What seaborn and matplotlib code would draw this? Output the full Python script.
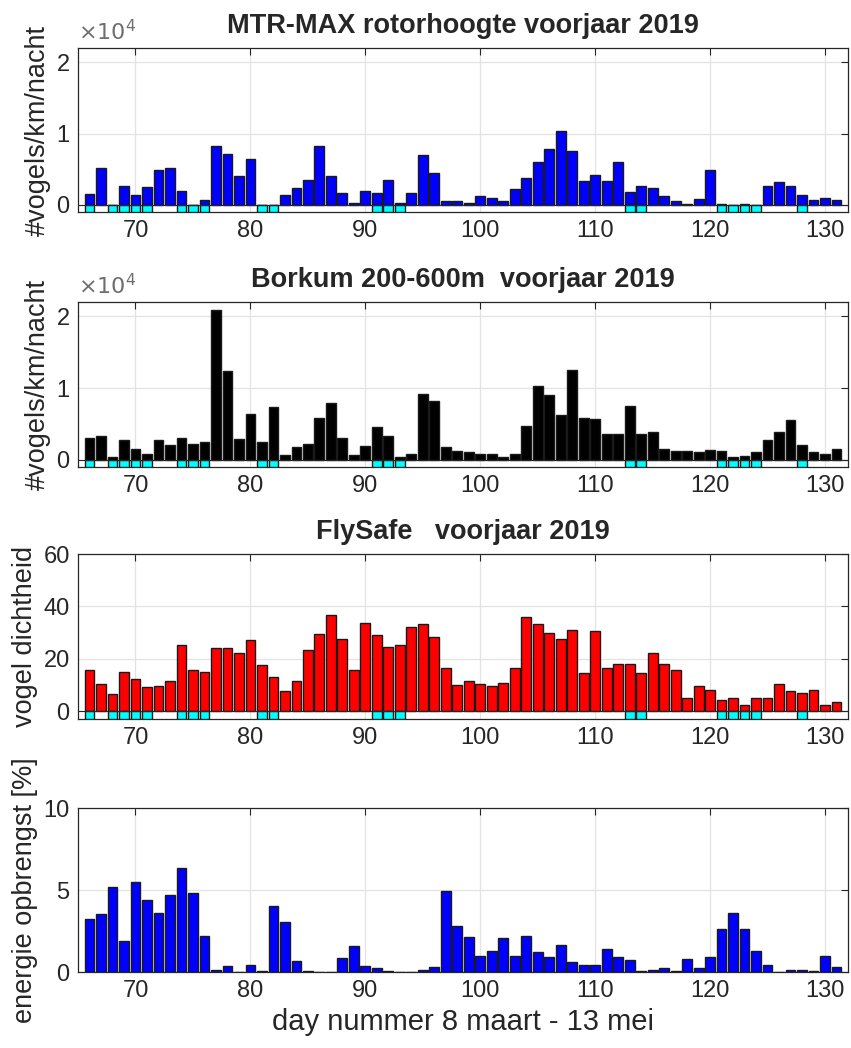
import numpy as np
import pandas as pd
import matplotlib
matplotlib.use("Agg")
import matplotlib.pyplot as plt
import seaborn as sns

# Day numbers (8 March - 13 May 2019)
days = list(range(66, 132))

# MTR-MAX rotor height, birds/km/night
mtr_max = [1480, 5200, 0, 2700, 1400, 2550, 4860, 5200, 2000, 0,
           650, 8200, 7200, 4000, 6500, 0, 0, 1340, 2360, 3470,
           8200, 4000, 1670, 320, 2000, 1670, 3470, 320, 1670, 7000,
           4500, 500, 500, 320, 1200, 1000, 500, 2180, 3700, 5970,
           7870, 10370, 7500, 3330, 4170, 3330, 5970, 1850, 2690, 2360,
           1200, 500, 190, 830, 4860, 190, 0, 190, 0, 2690,
           3190, 2690, 1340, 690, 1000, 690]

# Borkum radar 200-600 m, birds/km/night
borkum = [3100, 3380, 420, 2730, 1530, 880, 2730, 2080, 3100, 2220,
          2550, 20880, 12400, 2900, 6400, 2550, 7400, 740, 1760, 2270,
          5880, 7900, 3100, 740, 1940, 4580, 3380, 420, 880, 9200,
          8240, 1760, 1250, 1060, 880, 880, 420, 880, 4720, 10230,
          9070, 6200, 12550, 5880, 5740, 3560, 3560, 7550, 3560, 3940,
          1570, 1250, 1250, 1060, 1390, 1250, 420, 600, 1060, 2730,
          3940, 5600, 2080, 1060, 880, 1570]

# FlySafe bird density
flysafe = [15.9, 10.4, 6.7, 14.9, 12.3, 9.1, 9.6, 11.4, 25.1, 15.9,
           14.9, 24.2, 24.2, 22.3, 27.3, 17.7, 13.2, 7.6, 11.4, 23.3,
           29.6, 36.8, 27.7, 15.9, 33.7, 29.1, 24.6, 25.4, 32.3, 33.2,
           28.2, 16.5, 10.0, 11.4, 10.5, 9.6, 10.9, 16.5, 35.9, 33.2,
           30.0, 27.7, 30.9, 14.6, 30.5, 16.3, 18.2, 18.2, 14.4, 22.3,
           18.2, 15.9, 4.9, 9.6, 8.1, 4.4, 4.9, 2.3, 4.9, 4.9,
           10.4, 7.7, 6.8, 8.1, 2.3, 3.5]

# Energy yield [%]
energie = [3.23, 3.52, 5.2, 1.89, 5.51, 4.41, 3.58, 4.70, 6.36, 4.82,
           2.2, 0.14, 0.39, 0.0, 0.45, 0.08, 4.02, 3.07, 0.65, 0.08,
           0.02, 0.02, 0.87, 1.6, 0.39, 0.22, 0.08, 0.0, 0.0, 0.14,
           0.3, 4.92, 2.8, 2.15, 0.98, 1.26, 2.07, 0.98, 2.22, 1.2,
           0.89, 1.63, 0.61, 0.45, 0.45, 1.4, 0.89, 0.73, 0.08, 0.14,
           0.22, 0.08, 0.81, 0.22, 0.89, 2.64, 3.58, 2.64, 1.26, 0.45,
           0.0, 0.14, 0.14, 0.08, 0.98, 0.3]

# Days flagged (drawn as cyan markers below the baseline)
flag_days = [66, 68, 69, 70, 71, 74, 75, 76, 81, 82, 91, 92, 93,
             113, 114, 121, 122, 123, 124, 128]

xticks = [70, 80, 90, 100, 110, 120, 130]

sns.set_theme(style="white")
plt.rcParams["font.family"] = ["Liberation Sans", "DejaVu Sans"]
TXT = "#262626"
plt.rcParams.update({
    "text.color": TXT, "axes.labelcolor": TXT,
    "xtick.color": TXT, "ytick.color": TXT,
    "axes.edgecolor": TXT,
})

fig = plt.figure(figsize=(8.51, 10.48), dpi=100)
L, W = 0.0917, 0.9048
boxes = [(L, 0.7977, W, 0.1565),
         (L, 0.5544, W, 0.1574),
         (L, 0.3139, W, 0.1574),
         (L, 0.0725, W, 0.1565)]
axes = [fig.add_axes(b) for b in boxes]

panels = [
    dict(vals=mtr_max, color="#0000ff", ylim=(-1000, 22000),
         yticks=[0, 10000, 20000], yticklabels=["0", "1", "2"],
         ylabel="#vogels/km/nacht", title="MTR-MAX rotorhoogte voorjaar 2019",
         exp=True),
    dict(vals=borkum, color="#000000", ylim=(-1000, 22000),
         yticks=[0, 10000, 20000], yticklabels=["0", "1", "2"],
         ylabel="#vogels/km/nacht", title="Borkum 200-600m  voorjaar 2019",
         exp=True),
    dict(vals=flysafe, color="#ff0000", ylim=(-3, 60),
         yticks=[0, 20, 40, 60], yticklabels=["0", "20", "40", "60"],
         ylabel="vogel dichtheid", title="FlySafe   voorjaar 2019",
         exp=False),
    dict(vals=energie, color="#0000ff", ylim=(0, 10),
         yticks=[0, 5, 10], yticklabels=["0", "5", "10"],
         ylabel="energie opbrengst [%]", title=None, exp=False),
]

for i, (ax, p) in enumerate(zip(axes, panels)):
    df = pd.DataFrame({"day": days, "value": p["vals"]})
    ax.grid(True, color="#e3e3e3", linewidth=0.9, zorder=0)
    ax.set_axisbelow(True)
    sns.barplot(data=df, x="day", y="value", native_scale=True,
                color=p["color"], saturation=1, width=0.85,
                edgecolor="#1a1a1a", linewidth=1.0, ax=ax, zorder=3)
    if p["ylim"][0] < 0:
        fdf = pd.DataFrame({"day": flag_days,
                            "value": [p["ylim"][0]] * len(flag_days)})
        sns.barplot(data=fdf, x="day", y="value", native_scale=True,
                    color="#00ffff", saturation=1, width=0.85,
                    edgecolor="#1a1a1a", linewidth=1.0, ax=ax, zorder=3)
        ax.axhline(0, color="#262626", linewidth=0.8, zorder=4)
    ax.set_xlim(65, 132)
    ax.set_ylim(*p["ylim"])
    ax.set_xticks(xticks)
    ax.set_yticks(p["yticks"])
    ax.set_yticklabels(p["yticklabels"])
    ax.tick_params(axis="both", which="both", direction="in", length=5,
                   width=0.8, top=True, right=True, labelsize=17, pad=6)
    ax.set_xticklabels([str(t) for t in xticks])
    ax.set_xlabel("")
    ax.set_ylabel(p["ylabel"], fontsize=19.5, labelpad=4)
    for s in ax.spines.values():
        s.set_linewidth(0.9)
        s.set_color("#262626")
    if p["title"]:
        ax.set_title(p["title"], fontsize=19.5, fontweight="bold", pad=11)
    if p["exp"]:
        ax.text(0.0, 1.015, r"$\times10^{4}$", transform=ax.transAxes,
                fontsize=16, color="#6e6e6e", ha="left", va="bottom",
                math_fontfamily="dejavusans")

axes[-1].set_xlabel("day nummer 8 maart - 13 mei", fontsize=21, labelpad=4)

fig.savefig("out.png", dpi=100, facecolor="white")
